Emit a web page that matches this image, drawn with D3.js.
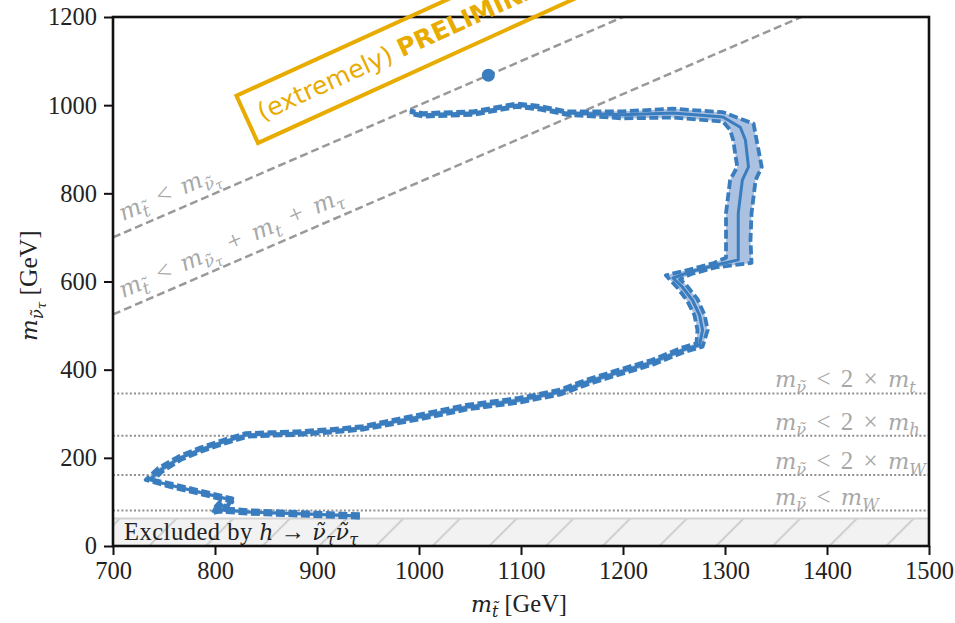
<!DOCTYPE html>
<html>
<head>
<meta charset="utf-8">
<script src="https://cdn.jsdelivr.net/npm/d3@7"></script>
<style>
  body { margin: 0; background: #fff; }
</style>
</head>
<body>
<svg id="chart" width="955" height="623"></svg>
<script>
// ---- axis ticks ----
const xTicks = [700, 800, 900, 1000, 1100, 1200, 1300, 1400, 1500];
const yTicks = [0, 200, 400, 600, 800, 1000, 1200];

// ---- Standard Model masses (GeV) ----
const massW = 80.4, massH = 125, massTop = 173, massTau = 1.78;

// horizontal kinematic thresholds on the sneutrino mass
const thresholdValues = [massW, 2 * massW, 2 * massH, 2 * massTop];
const thresholdSymbols = ["W", "W", "h", "t"];
const thresholdFactor = [false, true, true, true];

// diagonal thresholds: m_stop = m_snu + offset
const diagOffsets = [0, massTop + massTau];

// region excluded by invisible Higgs decays
const excludedMax = massH / 2;

// ---- expected exclusion contour (m_stop, m_snu) ----
const expStop = [942, 883, 834, 805, 798, 805, 811, 817, 785, 756, 736, 746, 766, 785, 808, 831, 854, 880, 913, 945,
                 1001, 1047, 1099, 1138, 1165, 1197, 1229, 1259, 1275, 1278, 1275, 1268, 1258, 1249, 1266, 1290, 1313, 1313, 1313, 1317,
                 1323, 1320, 1315, 1298, 1249, 1200, 1145, 1119, 1096, 1053, 1004, 991];
const expSnu  = [68, 73, 77, 82, 79, 97, 84, 104, 122, 138, 150, 172, 200, 218, 236, 252, 254, 256, 261, 268,
                 293, 315, 331, 349, 372, 395, 417, 445, 456, 490, 524, 558, 588, 608, 622, 637, 649, 694, 755, 830,
                 860, 921, 950, 973, 982, 978, 982, 994, 1000, 982, 978, 984];

// +1 sigma contour
const upStop = [942, 883, 834, 805, 798, 805, 811, 817, 785, 756, 740, 748, 767, 786, 809, 832, 854, 880, 913, 945,
                1002, 1048, 1100, 1139, 1166, 1198, 1230, 1260, 1278, 1283, 1280, 1273, 1262, 1256, 1267, 1291, 1326, 1325, 1326, 1330,
                1336, 1331, 1328, 1298, 1249, 1200, 1145, 1119, 1096, 1053, 1004, 991];
const upSnu  = [72, 77, 81, 86, 83, 101, 88, 108, 126, 142, 150, 168, 196, 214, 232, 248, 250, 252, 257, 264,
                288, 310, 326, 344, 367, 390, 412, 440, 452, 490, 524, 560, 592, 605, 617, 632, 642, 694, 755, 830,
                860, 921, 958, 984, 992, 986, 986, 998, 1004, 986, 982, 988];

// -1 sigma contour
const downStop = [942, 883, 834, 805, 798, 805, 811, 817, 785, 756, 732, 744, 765, 784, 807, 830, 854, 880, 913, 945,
                  1000, 1046, 1098, 1137, 1164, 1196, 1228, 1258, 1272, 1273, 1270, 1263, 1254, 1242, 1265, 1289, 1301, 1301, 1301, 1305,
                  1312, 1308, 1305, 1298, 1249, 1200, 1145, 1119, 1096, 1053, 1004, 991];
const downSnu  = [64, 69, 73, 78, 75, 93, 80, 100, 118, 134, 150, 176, 204, 222, 240, 256, 258, 260, 265, 272,
                  298, 320, 336, 354, 377, 400, 422, 450, 460, 490, 524, 556, 584, 614, 627, 642, 654, 694, 755, 830,
                  860, 921, 944, 963, 972, 970, 978, 990, 996, 978, 974, 980];

// single benchmark point
const pointStop = [1068];
const pointSnu = [1068];

// ---- layout ----
const svg = d3.select("#chart");
const x = d3.scaleLinear().domain([700, 1500]).range([113, 929]);
const y = d3.scaleLinear().domain([0, 1200]).range([546, 17]);
const serif = "'Liberation Serif', 'Times New Roman', serif";
const mathFont = "'DejaVu Serif', serif";
const blue = "#3a7dbe";
const labelGrey = "#a8a8a8";

const zip = (a, b) => a.map((v, i) => [v, b[i]]);
const expected = zip(expStop, expSnu);
const upper = zip(upStop, upSnu);
const lower = zip(downStop, downSnu);

// math-like text with nested subscripts; italic symbols use a wider serif
function addMath(g, parts, size) {
  const t = g.append("text").attr("font-family", serif).attr("font-size", size);
  const shift = [0, 0.22, 0.36];
  const scale = [1, 0.72, 0.58];
  let cur = 0;
  parts.forEach(([s, lvl, it]) => {
    const target = shift[lvl] * size;
    t.append("tspan")
      .attr("dy", target - cur)
      .attr("font-family", it ? mathFont : serif)
      .attr("font-size", size * scale[lvl] * (it ? 0.9 : 1))
      .attr("font-style", it ? "italic" : "normal")
      .text(s);
    cur = target;
  });
  return t;
}

const defs = svg.append("defs");
defs.append("clipPath").attr("id", "plotClip")
  .append("rect").attr("x", x(700)).attr("y", y(1200))
  .attr("width", x(1500) - x(700)).attr("height", y(0) - y(1200));

const hs = 56.7;
const pat = defs.append("pattern").attr("id", "hatch")
  .attr("patternUnits", "userSpaceOnUse")
  .attr("width", hs).attr("height", hs)
  .attr("patternTransform", "translate(14.7,0)");
pat.append("rect").attr("width", hs).attr("height", hs).attr("fill", "#f2f2f2");
pat.append("path")
  .attr("d", `M0,${hs} L${hs},0 M${-hs / 2},${hs / 2} L${hs / 2},${-hs / 2} M${hs / 2},${hs * 1.5} L${hs * 1.5},${hs / 2}`)
  .attr("stroke", "#c9c9c9").attr("stroke-width", 1.6);

const plot = svg.append("g").attr("clip-path", "url(#plotClip)");

// excluded band
plot.append("rect")
  .attr("x", x(700)).attr("y", y(excludedMax))
  .attr("width", x(1500) - x(700)).attr("height", y(0) - y(excludedMax))
  .attr("fill", "url(#hatch)");
plot.append("line")
  .attr("x1", x(700)).attr("x2", x(1500))
  .attr("y1", y(excludedMax)).attr("y2", y(excludedMax))
  .attr("stroke", "#d2d2d2").attr("stroke-width", 2);

// horizontal thresholds
plot.selectAll(".thr").data(thresholdValues).join("line")
  .attr("x1", x(700)).attr("x2", x(1500))
  .attr("y1", d => y(d)).attr("y2", d => y(d))
  .attr("stroke", "#8f8f8f").attr("stroke-width", 2)
  .attr("stroke-dasharray", "2,2.2");

// diagonal thresholds
plot.selectAll(".diag").data(diagOffsets).join("line")
  .attr("x1", x(700)).attr("y1", d => y(700 - d))
  .attr("x2", d => x(1200 + d)).attr("y2", y(1200))
  .attr("stroke", "#999999").attr("stroke-width", 2.5)
  .attr("stroke-dasharray", "8,4");

// contour band
const line = d3.line().x(d => x(d[0])).y(d => y(d[1]));
plot.append("path")
  .attr("d", line(upper.concat(lower.slice().reverse())) + "Z")
  .attr("fill", "#abc1e1").attr("stroke", "none");
[upper, lower].forEach(c => {
  plot.append("path").attr("d", line(c))
    .attr("fill", "none").attr("stroke", blue)
    .attr("stroke-width", 3.8).attr("stroke-dasharray", "9,3.5")
    .attr("stroke-linejoin", "round");
});
plot.append("path").attr("d", line(expected))
  .attr("fill", "none").attr("stroke", blue)
  .attr("stroke-width", 3).attr("stroke-linejoin", "round");

plot.selectAll(".pt").data(zip(pointStop, pointSnu)).join("circle")
  .attr("cx", d => x(d[0])).attr("cy", d => y(d[1])).attr("r", 6.5)
  .attr("fill", blue);

// threshold labels
const thrG = svg.append("g").attr("fill", labelGrey);
thresholdValues.forEach((v, i) => {
  const parts = [["m", 0, 1], ["ν\u0303", 1, 1]];
  parts.push([thresholdFactor[i] ? " < 2 × " : " < ", 0, 0]);
  parts.push(["m", 0, 1], [thresholdSymbols[i], 1, 1]);
  addMath(thrG, parts, 25).attr("x", 775).attr("y", y(v) - 6)
    .attr("word-spacing", 4);
});

// diagonal labels
const ang = Math.atan2(y(0) - y(1), x(1) - x(0)) * 180 / Math.PI;
const diagParts = [
  [["m", 0, 1], ["t\u0303", 1, 1], [" < ", 0, 0], ["m", 0, 1], ["ν\u0303", 1, 1], ["τ", 2, 1]],
  [["m", 0, 1], ["t\u0303", 1, 1], [" < ", 0, 0], ["m", 0, 1], ["ν\u0303", 1, 1], ["τ", 2, 1],
   [" + ", 0, 0], ["m", 0, 1], ["t", 1, 1], [" + ", 0, 0], ["m", 0, 1], ["τ", 1, 1]]
];
diagOffsets.forEach((off, i) => {
  const g = svg.append("g").attr("fill", labelGrey)
    .attr("transform", `translate(${x(714)},${y(714 - off)}) rotate(${-ang})`);
  addMath(g, diagParts[i], 26).attr("x", 0).attr("y", -11).attr("word-spacing", 5);
});

// excluded label
addMath(svg.append("g").attr("fill", "#222"),
  [["Excluded by ", 0, 0], ["h", 0, 1], [" → ", 0, 0], ["ν\u0303", 0, 1], ["τ", 1, 1], ["ν\u0303", 0, 1], ["τ", 1, 1]], 24.5)
  .attr("x", 124).attr("y", 540).attr("letter-spacing", 0.5);

// axes
const xAxis = svg.append("g").attr("transform", `translate(0,${y(0)})`)
  .call(d3.axisBottom(x).tickValues(xTicks).tickSize(9).tickPadding(7).tickFormat(d3.format("d")));
const yAxis = svg.append("g").attr("transform", `translate(${x(700)},0)`)
  .call(d3.axisLeft(y).tickValues(yTicks).tickSize(9).tickPadding(7).tickFormat(d3.format("d")));
[xAxis, yAxis].forEach(a => {
  a.select(".domain").remove();
  a.selectAll(".tick line").attr("stroke", "#111").attr("stroke-width", 2);
  a.selectAll(".tick text").attr("font-family", serif).attr("font-size", 24.5).attr("fill", "#222");
});

svg.append("rect")
  .attr("x", x(700)).attr("y", y(1200))
  .attr("width", x(1500) - x(700)).attr("height", y(0) - y(1200))
  .attr("fill", "none").attr("stroke", "#111").attr("stroke-width", 2.6);

// axis titles
addMath(svg.append("g").attr("fill", "#222"),
  [["m", 0, 1], ["t\u0303", 1, 1], [" [GeV]", 0, 0]], 24.5)
  .attr("x", 471).attr("y", 612);
const yl = svg.append("g").attr("fill", "#222").attr("transform", "translate(37,341) rotate(-90)");
addMath(yl, [["m", 0, 1], ["ν\u0303", 1, 1], ["τ", 2, 1], [" [GeV]", 0, 0]], 25.5).attr("x", 0).attr("y", 0);

// preliminary stamp
const gold = "#e8ab00";
const stamp = svg.append("g").attr("transform", "translate(258,143) rotate(-24.5)");
stamp.append("rect").attr("x", 0).attr("y", -52).attr("width", 400).attr("height", 52)
  .attr("fill", "none").attr("stroke", gold).attr("stroke-width", 4);
const st = stamp.append("text").attr("x", 13).attr("y", -18)
  .attr("font-family", "'DejaVu Sans', Verdana, sans-serif").attr("font-size", 25).attr("fill", gold);
st.append("tspan").text("(extremely) ");
st.append("tspan").attr("font-weight", "bold").text("PRELIMINARY");
</script>
</body>
</html>
